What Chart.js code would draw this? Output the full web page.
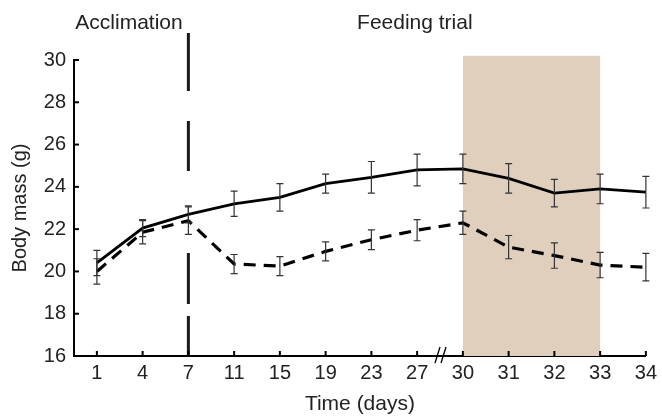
<!DOCTYPE html>
<html lang="en">
<head>
    <meta charset="UTF-8">
    <title>Body mass over time</title>
    <script src="https://cdn.jsdelivr.net/npm/chart.js"></script>
    <style>
        html, body { margin: 0; padding: 0; background: #fff; }
        #wrap { width: 662px; height: 417px; }
    </style>
</head>
<body>
    <div id="wrap"><canvas id="massChart" width="662" height="417"></canvas></div>

    <script>
        // Day labels on the x axis (equally spaced, with a break before day 30)
        const dayLabels = ['1', '4', '7', '11', '15', '19', '23', '27', '30', '31', '32', '33', '34'];

        // Solid line group: mean and error
        const solidMean = [20.4, 22.05, 22.7, 23.2, 23.5, 24.15, 24.45, 24.8, 24.85, 24.4, 23.7, 23.9, 23.75];
        const solidErr  = [0.6, 0.4, 0.4, 0.6, 0.65, 0.45, 0.75, 0.75, 0.7, 0.7, 0.65, 0.7, 0.75];

        // Dashed line group: mean and error
        const dashedMean = [20.0, 21.85, 22.4, 20.35, 20.25, 20.95, 21.5, 21.95, 22.3, 21.15, 20.75, 20.3, 20.2];
        const dashedErr  = [0.6, 0.55, 0.65, 0.45, 0.45, 0.45, 0.47, 0.5, 0.55, 0.55, 0.6, 0.6, 0.65];

        const yTicks = [16, 18, 20, 22, 24, 26, 28, 30];

        const FONT = '"Liberation Sans", Arial, sans-serif';
        const toPoints = arr => arr.map((v, i) => ({ x: i, y: v }));

        // Shaded window, dashed divider, error bars, ticks and axis break
        const decor = {
            id: 'decor',
            beforeDatasetsDraw(chart) {
                const { ctx, scales: { x, y } } = chart;
                ctx.save();
                // shaded window from day 30 to day 33
                const x0 = x.getPixelForValue(8), x1 = x.getPixelForValue(11);
                const yTop = y.getPixelForValue(30.2), yBot = y.getPixelForValue(16);
                ctx.fillStyle = '#e1cfbd';
                ctx.fillRect(x0, yTop, x1 - x0, yBot - yTop);

                // dashed vertical divider at day 7
                const xv = x.getPixelForValue(2);
                ctx.strokeStyle = '#1a1a1a';
                ctx.lineWidth = 3;
                ctx.setLineDash([58, 30, 50, 82, 51, 12, 60]);
                ctx.beginPath();
                ctx.moveTo(xv, y.getPixelForValue(31.28));
                ctx.lineTo(xv, yBot);
                ctx.stroke();
                ctx.setLineDash([]);
                ctx.restore();
            },
            afterDatasetsDraw(chart) {
                const { ctx, scales: { x, y } } = chart;
                ctx.save();
                // error bars
                const bars = [[solidMean, solidErr], [dashedMean, dashedErr]];
                ctx.strokeStyle = '#333';
                ctx.lineWidth = 1.2;
                bars.forEach(([m, e]) => {
                    m.forEach((v, i) => {
                        const px = x.getPixelForValue(i);
                        const t = y.getPixelForValue(v + e[i]);
                        const b = y.getPixelForValue(v - e[i]);
                        ctx.beginPath();
                        ctx.moveTo(px, t); ctx.lineTo(px, b);
                        ctx.moveTo(px - 3.5, t); ctx.lineTo(px + 3.5, t);
                        ctx.moveTo(px - 3.5, b); ctx.lineTo(px + 3.5, b);
                        ctx.stroke();
                    });
                });

                // inward ticks
                ctx.strokeStyle = '#000';
                ctx.lineWidth = 2;
                const base = y.getPixelForValue(16);
                dayLabels.forEach((_, i) => {
                    const px = x.getPixelForValue(i);
                    ctx.beginPath();
                    ctx.moveTo(px, base); ctx.lineTo(px, base - 5);
                    ctx.stroke();
                });
                const left = chart.chartArea.left;
                yTicks.forEach(v => {
                    const py = y.getPixelForValue(v);
                    ctx.beginPath();
                    ctx.moveTo(left, py); ctx.lineTo(left + 5, py);
                    ctx.stroke();
                });

                // axis break marks before day 30
                const bx = (x.getPixelForValue(7) + x.getPixelForValue(8)) / 2 + 2;
                ctx.strokeStyle = '#000';
                ctx.lineWidth = 1.3;
                ctx.beginPath();
                ctx.moveTo(bx - 7, base + 7); ctx.lineTo(bx - 2, base - 9);
                ctx.moveTo(bx - 1, base + 7); ctx.lineTo(bx + 4, base - 9);
                ctx.stroke();

                // period labels
                ctx.fillStyle = '#222';
                ctx.font = '21px ' + FONT;
                ctx.textAlign = 'center';
                ctx.textBaseline = 'middle';
                ctx.fillText('Acclimation', 129, 23);
                ctx.fillText('Feeding trial', x.getPixelForValue(6.95), 23);
                ctx.restore();
            }
        };

        const ctx = document.getElementById('massChart').getContext('2d');
        new Chart(ctx, {
            type: 'line',
            data: {
                datasets: [
                    {
                        label: 'Solid',
                        data: toPoints(solidMean),
                        borderColor: '#000',
                        borderWidth: 2.8,
                        pointRadius: 0,
                        tension: 0,
                        fill: false
                    },
                    {
                        label: 'Dashed',
                        data: toPoints(dashedMean),
                        borderColor: '#000',
                        borderWidth: 3.2,
                        borderDash: [12, 8],
                        pointRadius: 0,
                        tension: 0,
                        fill: false
                    }
                ]
            },
            options: {
                responsive: false,
                animation: false,
                layout: { padding: { top: 60, right: 14, left: 0, bottom: 0 } },
                plugins: {
                    legend: { display: false },
                    tooltip: { enabled: false }
                },
                scales: {
                    x: {
                        type: 'linear',
                        min: -0.5,
                        max: 12,
                        afterBuildTicks: scale => {
                            scale.ticks = dayLabels.map((_, i) => ({ value: i }));
                        },
                        afterFit: scale => { scale.height = 61; },
                        ticks: {
                            color: '#222',
                            font: { size: 20, family: FONT },
                            padding: 5,
                            maxRotation: 0,
                            autoSkip: false,
                            callback: v => dayLabels[v]
                        },
                        grid: { display: false, drawTicks: false },
                        border: { display: true, color: '#000', width: 2 },
                        title: {
                            display: true,
                            text: 'Time (days)',
                            color: '#222',
                            font: { size: 21, family: FONT },
                            padding: { top: 0, bottom: 0 }
                        }
                    },
                    y: {
                        min: 16,
                        max: 30,
                        afterBuildTicks: scale => {
                            scale.ticks = yTicks.map(v => ({ value: v }));
                        },
                        afterFit: scale => { scale.width = 74; },
                        ticks: {
                            color: '#222',
                            font: { size: 20, family: FONT },
                            padding: 8
                        },
                        grid: { display: false, drawTicks: false },
                        border: { display: true, color: '#000', width: 2 },
                        title: {
                            display: true,
                            text: 'Body mass (g)',
                            color: '#222',
                            font: { size: 20, family: FONT },
                            padding: { top: 8, bottom: 0 }
                        }
                    }
                }
            },
            plugins: [decor]
        });
    </script>
</body>
</html>
